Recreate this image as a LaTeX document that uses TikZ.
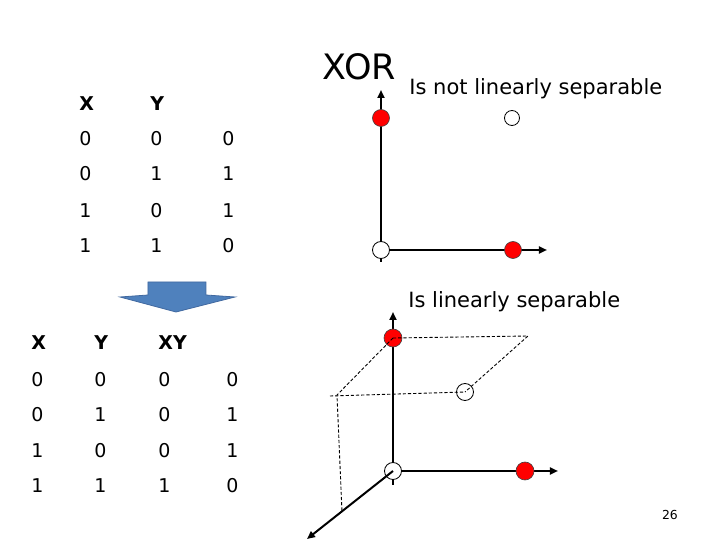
\documentclass[tikz,border=0pt]{standalone}
\usepackage{fontspec}
\setmainfont{DejaVu Sans}
\usetikzlibrary{arrows.meta}
\definecolor{arrblue}{RGB}{79,129,189}
\definecolor{arredge}{RGB}{65,105,160}
\tikzset{
 cell/.style={anchor=west,inner sep=0pt,font=\fontsize{9.5}{11}\selectfont},
 hcell/.style={cell,font=\fontsize{9.5}{11}\selectfont\bfseries},
 caption/.style={anchor=base west,inner sep=0pt,font=\fontsize{10.5}{12}\selectfont},
 axis/.style={line width=1pt,-{Triangle[length=4pt,width=3.5pt]}},
 reddot/.style={circle,draw=black!75,fill=red,minimum size=8.5pt,inner sep=0pt,line width=0.3pt},
 opendot/.style={circle,draw,fill=white,minimum size=8.5pt,inner sep=0pt,line width=0.4pt},
 guide/.style={dash pattern=on 1.6pt off 1pt,line width=0.45pt},
}
\begin{document}
\begin{tikzpicture}[x=0.5pt,y=-0.5pt]
 \useasboundingbox (0,0) rectangle (720,540);
 % truth table of XOR
 \node[hcell] (ux) at (79,104) {X}; \node[hcell] (uy) at (150,104) {Y};
 \node[cell] (u1a) at (79,139) {0}; \node[cell] (u1b) at (150,139) {0}; \node[cell] (u1c) at (222,139) {0};
 \node[cell] (u2a) at (79,174) {0}; \node[cell] (u2b) at (150,174) {1}; \node[cell] (u2c) at (222,174) {1};
 \node[cell] (u3a) at (79,211) {1}; \node[cell] (u3b) at (150,211) {0}; \node[cell] (u3c) at (222,211) {1};
 \node[cell] (u4a) at (79,246) {1}; \node[cell] (u4b) at (150,246) {1}; \node[cell] (u4c) at (222,246) {0};
 % block arrow
 \draw[fill=arrblue,draw=arredge,line width=0.4pt] (148,282)--(206,282)--(206,295)--(235,297)--(176,312)--(120,297)--(148,295)--cycle;
 % table with the product XY
 \node[hcell] (lx) at (31,343) {X}; \node[hcell] (ly) at (94,343) {Y}; \node[hcell] (lxy) at (158,343) {XY};
 \node[cell] (l1a) at (31,380) {0}; \node[cell] (l1b) at (94,380) {0}; \node[cell] (l1c) at (158,380) {0}; \node[cell] (l1d) at (226,380) {0};
 \node[cell] (l2a) at (31,415) {0}; \node[cell] (l2b) at (94,415) {1}; \node[cell] (l2c) at (158,415) {0}; \node[cell] (l2d) at (226,415) {1};
 \node[cell] (l3a) at (31,451) {1}; \node[cell] (l3b) at (94,451) {0}; \node[cell] (l3c) at (158,451) {0}; \node[cell] (l3d) at (226,451) {1};
 \node[cell] (l4a) at (31,486) {1}; \node[cell] (l4b) at (94,486) {1}; \node[cell] (l4c) at (158,486) {1}; \node[cell] (l4d) at (226,486) {0};
 % XOR in the plane
 \node[anchor=base west,inner sep=0pt,font=\fontsize{17.5}{19}\selectfont] (xor) at (322,80) {XOR};
 \node[caption] (notsep) at (409,95) {Is not linearly separable};
 \coordinate (uo) at (381,250); \coordinate (utop) at (381,90);
 \coordinate (ubot) at (381,262); \coordinate (uright) at (547,250);
 \draw[line width=1pt] (uo)--(ubot);
 \draw[axis] (uo)--(utop);
 \draw[axis] (uo)--(uright);
 \node[reddot] (u01) at (381,118) {};
 \node[opendot,minimum size=7.5pt] (u11) at (512,118) {};
 \node[opendot] (u00) at (uo) {};
 \node[reddot] (u10) at (513,250) {};
 % XOR in three dimensions
 \node[caption] (sep) at (408,308) {Is linearly separable};
 \coordinate (lo) at (393,471); \coordinate (ltop) at (393,312);
 \coordinate (lbot) at (393,485); \coordinate (lright) at (558,471);
 \coordinate (lfront) at (307,539);
 \coordinate (pb) at (528,336); \coordinate (pf) at (337,395);
 \coordinate (pl) at (330,396); \coordinate (pd) at (342,512);
 \draw[line width=1pt] (lo)--(lbot);
 \draw[axis] (lo)--(ltop);
 \draw[axis] (lo)--(lright);
 \node[reddot,minimum size=9pt] (l01) at (393,338) {};
 \node[opendot] (l11) at (465,392) {};
 \node[opendot] (l00) at (lo) {};
 \node[reddot,minimum size=9pt] (l10) at (525,471) {};
 \draw[guide] (l01.center)--(pb)--(l11.center);
 \draw[guide] (l01.center)--(pf)--(pd);
 \draw[guide] (pl)--(l11.center);
 \draw[axis] (lo)--(lfront);
 \node[inner sep=0pt,font=\fontsize{6.2}{7}\selectfont] (page) at (670,515) {26};
\end{tikzpicture}
\end{document}
